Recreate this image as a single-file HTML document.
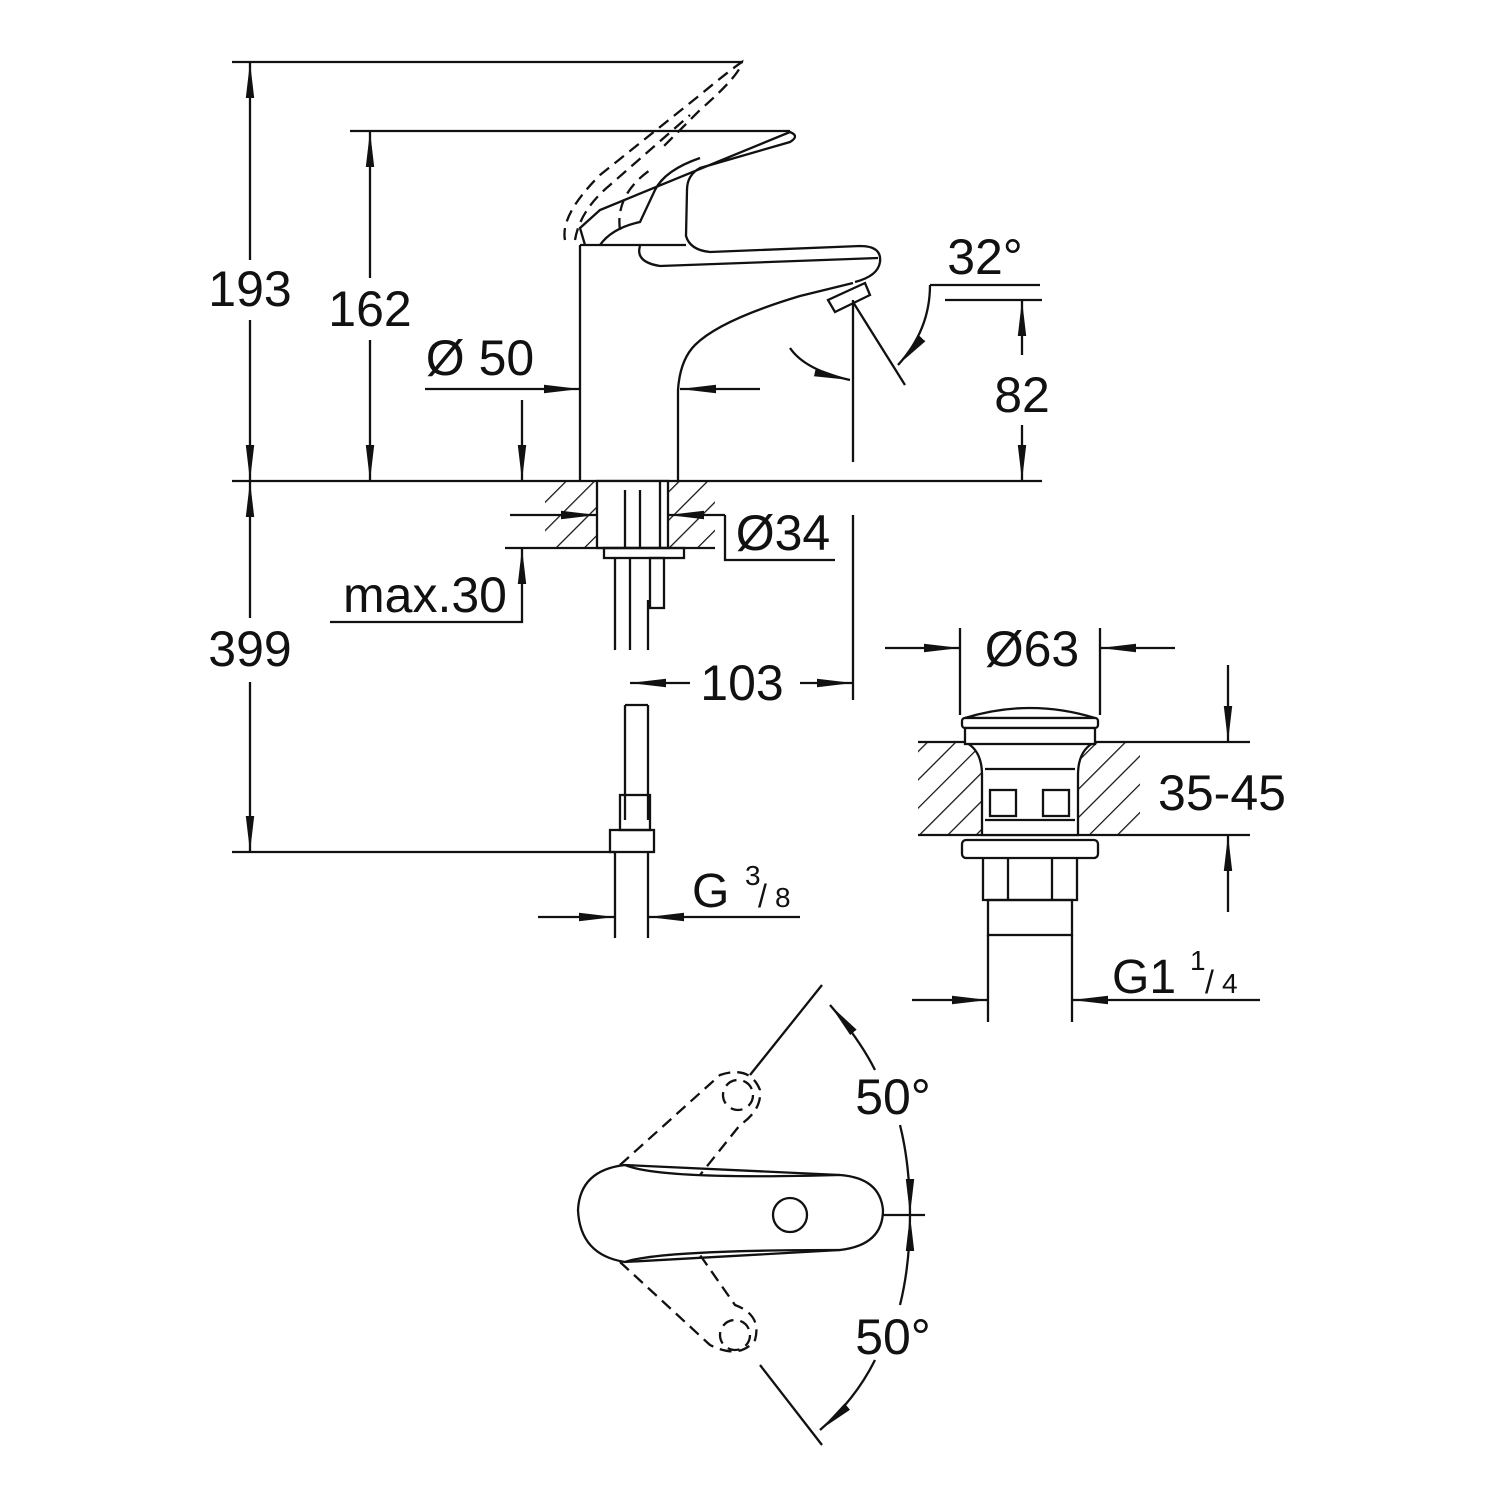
<!DOCTYPE html>
<html><head><meta charset="utf-8"><style>
html,body{margin:0;padding:0;background:#fff}
svg{display:block}
text{font-family:"Liberation Sans",sans-serif;fill:#111}
</style></head><body>
<svg width="1500" height="1500" viewBox="0 0 1500 1500" xmlns="http://www.w3.org/2000/svg">
<defs>
<marker id="b" viewBox="0 0 30 10" refX="30" refY="5" markerWidth="36" markerHeight="12" markerUnits="userSpaceOnUse" orient="auto-start-reverse"><path d="M0,1.5 L30,5 L0,8.5z" fill="#111"/></marker>
<pattern id="h" patternUnits="userSpaceOnUse" width="20" height="20" patternTransform="rotate(45)"><line x1="0" y1="0" x2="0" y2="20" stroke="#111" stroke-width="2.5"/></pattern>
</defs>
<g stroke="#111" stroke-width="2.3" fill="none">
<line x1="232" y1="62" x2="742" y2="62"/>
<line x1="350" y1="131" x2="790" y2="131"/>
<line x1="232" y1="481" x2="1042" y2="481"/>
<line x1="232" y1="852" x2="615" y2="852"/>
<line x1="250" y1="62" x2="250" y2="260" marker-start="url(#b)"/>
<line x1="250" y1="320" x2="250" y2="481" marker-end="url(#b)"/>
<line x1="370" y1="131" x2="370" y2="278" marker-start="url(#b)"/>
<line x1="370" y1="340" x2="370" y2="481" marker-end="url(#b)"/>
<line x1="250" y1="481" x2="250" y2="618" marker-start="url(#b)"/>
<line x1="250" y1="682" x2="250" y2="852" marker-end="url(#b)"/>
<!-- faucet body -->
<path d="M580,481 V245 M678,481 V390 Q680,360 695,345 Q720,320 800,296 L853,283"/>
<path d="M585,245 L580,228 L600,210 L790,132 Q800,136 790,142 L700,168 Q687,175 687,190 L686,236 Q690,250 710,252 L860,246 Q882,246 880,262 Q878,276 855,282"/>
<path d="M580,245 H686"/>
<path d="M600,245 Q612,228 640,222 L655,190 Q665,170 700,158"/>
<path d="M640,246 Q635,262 660,266 L878,258"/>
<path d="M835,312 L870,295 L865,283 L828,300 Z"/>
<g stroke-dasharray="12,7">
<path d="M565,240 Q560,215 600,175 L700,95 Q730,70 742,62 Q740,75 700,110 L660,150"/>
<path d="M575,240 Q580,210 610,185 L690,115"/>
<path d="M620,230 Q615,195 650,170"/>
</g>
<!-- Ø50 -->
<line x1="425" y1="389" x2="580" y2="389" marker-end="url(#b)"/>
<line x1="760" y1="389" x2="680" y2="389" marker-end="url(#b)"/>
<line x1="522" y1="400" x2="522" y2="481" marker-end="url(#b)"/>
<!-- 82, 32° -->
<line x1="945" y1="300" x2="1042" y2="300"/>
<line x1="1022" y1="300" x2="1022" y2="355" marker-start="url(#b)"/>
<line x1="1022" y1="425" x2="1022" y2="481" marker-end="url(#b)"/>
<line x1="853" y1="300" x2="853" y2="462"/>
<line x1="853" y1="515" x2="853" y2="700"/>
<line x1="853" y1="302" x2="905" y2="385"/>
<path d="M930,285 H1040"/>
<path d="M930,285 Q930,330 898,365" marker-end="url(#b)"/>
<path d="M790,348 Q805,370 850,380" marker-end="url(#b)"/>
<!-- counter section -->
<rect x="545" y="481" width="170" height="67" fill="url(#h)" stroke="none"/>
<rect x="597" y="481" width="71" height="67" fill="#fff" stroke="#111"/>
<line x1="545" y1="548" x2="715" y2="548"/>
<line x1="625" y1="490" x2="625" y2="548"/><line x1="640" y1="490" x2="640" y2="548"/><line x1="660" y1="481" x2="660" y2="548"/>
<rect x="604" y="548" width="80" height="10"/>
<line x1="510" y1="515" x2="597" y2="515" marker-end="url(#b)"/>
<line x1="725" y1="515" x2="668" y2="515" marker-end="url(#b)"/>
<path d="M725,515 V560 H835"/>
<line x1="505" y1="548" x2="545" y2="548"/>
<path d="M330,622 H522 V548" marker-end="url(#b)"/>
<!-- hose -->
<path d="M615,558 V650 M630,558 V650 M648,600 V650"/>
<rect x="650" y="558" width="14" height="50"/>
<path d="M625,705 V820 M648,705 V820 M625,705 L648,705"/>
<rect x="620" y="795" width="30" height="35"/>
<rect x="610" y="830" width="44" height="22"/>
<path d="M615,852 V938 M648,852 V938"/>
<line x1="538" y1="917" x2="615" y2="917" marker-end="url(#b)"/>
<line x1="800" y1="917" x2="648" y2="917" marker-end="url(#b)"/>
<line x1="690" y1="683" x2="630" y2="683" marker-end="url(#b)"/>
<line x1="800" y1="683" x2="853" y2="683" marker-end="url(#b)"/>
<!-- drain -->
<line x1="960" y1="628" x2="960" y2="715"/><line x1="1100" y1="628" x2="1100" y2="715"/>
<line x1="885" y1="648" x2="960" y2="648" marker-end="url(#b)"/>
<line x1="1175" y1="648" x2="1100" y2="648" marker-end="url(#b)"/>
<rect x="918" y="742" width="222" height="93" fill="url(#h)" stroke="none"/>
<line x1="918" y1="742" x2="1250" y2="742"/><line x1="918" y1="835" x2="1250" y2="835"/>
<path d="M965,742 Q982,750 982,775 V835 H1078 V775 Q1078,750 1095,742 Z" fill="#fff"/>
<path d="M965,718 Q1030,698 1095,718 Z"/>
<rect x="962" y="718" width="136" height="10" rx="3" fill="#fff"/>
<rect x="965" y="728" width="130" height="16" fill="#fff"/>
<line x1="985" y1="769" x2="1075" y2="769"/><line x1="985" y1="820" x2="1075" y2="820"/>
<rect x="990" y="790" width="26" height="26"/><rect x="1043" y="790" width="26" height="26"/>
<rect x="962" y="840" width="136" height="18" rx="4" fill="#fff"/>
<path d="M983,858 V900 H1077 V858"/>
<line x1="1008" y1="858" x2="1008" y2="900"/><line x1="1052" y1="858" x2="1052" y2="900"/>
<rect x="988" y="900" width="84" height="35"/>
<path d="M988,935 V1022 M1072,935 V1022"/>
<line x1="1228" y1="665" x2="1228" y2="742" marker-end="url(#b)"/>
<line x1="1228" y1="912" x2="1228" y2="835" marker-end="url(#b)"/>
<line x1="912" y1="1000" x2="988" y2="1000" marker-end="url(#b)"/>
<line x1="1260" y1="1000" x2="1072" y2="1000" marker-end="url(#b)"/>
<!-- bottom lever -->
<path d="M625,1165 Q580,1170 578,1210 Q580,1255 625,1262 L840,1250 Q883,1245 883,1210 Q880,1178 840,1175 Z"/>
<circle cx="790" cy="1215" r="17"/>
<path d="M625,1165 Q660,1180 840,1175"/>
<path d="M625,1262 Q660,1250 840,1250"/>
<g stroke-dasharray="12,7">
<path d="M620,1165 L720,1075 Q750,1065 760,1090 Q762,1110 740,1125 L700,1175"/>
<circle cx="738" cy="1095" r="15"/>
<path d="M620,1262 L710,1345 Q740,1360 755,1340 Q762,1315 735,1305 L700,1255"/>
<circle cx="735" cy="1335" r="15"/>
</g>
<line x1="750" y1="1075" x2="822" y2="985"/>
<line x1="760" y1="1365" x2="822" y2="1445"/>
<line x1="883" y1="1215" x2="925" y2="1215"/>
<path d="M830,1005 Q860,1040 875,1070" marker-start="url(#b)"/>
<path d="M900,1125 Q910,1165 910,1215" marker-end="url(#b)"/>
<path d="M910,1215 Q910,1265 900,1305" marker-start="url(#b)"/>
<path d="M875,1360 Q855,1400 820,1430" marker-end="url(#b)"/>
</g>
<g font-size="50" text-anchor="middle">
<text x="250" y="306">193</text>
<text x="370" y="326">162</text>
<text x="250" y="666">399</text>
<text x="480" y="375">Ø 50</text>
<text x="985" y="274">32°</text>
<text x="1022" y="412">82</text>
<text x="783" y="550">Ø34</text>
<text x="425" y="612">max.30</text>
<text x="742" y="700">103</text>
<text x="1032" y="666">Ø63</text>
<text x="1222" y="810">35-45</text>
<text x="893" y="1114">50°</text>
<text x="893" y="1354">50°</text>
</g>
<g font-size="48">
<text x="692" y="907">G</text>
<text x="745" y="885" font-size="28">3</text>
<text x="758" y="907" font-size="32">/</text>
<text x="775" y="907" font-size="28">8</text>
<text x="1112" y="993">G1</text>
<text x="1190" y="970" font-size="28">1</text>
<text x="1205" y="993" font-size="32">/</text>
<text x="1222" y="993" font-size="28">4</text>
</g>
</svg>
</body></html>
